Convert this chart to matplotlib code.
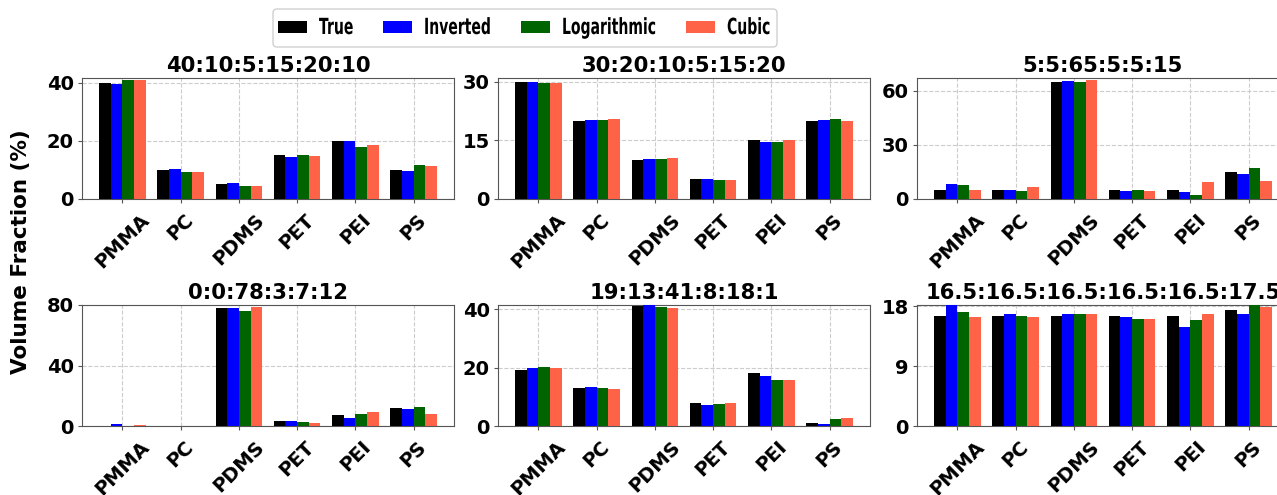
import matplotlib
matplotlib.use("Agg")
import matplotlib.pyplot as plt
from matplotlib.patches import Rectangle, FancyBboxPatch
from matplotlib.patheffects import AbstractPathEffect
from matplotlib.transforms import Affine2D, IdentityTransform
import numpy as np

plastics = ["PMMA", "PC", "PDMS", "PET", "PEI", "PS"]
series_names = ["True", "Inverted", "Logarithmic", "Cubic"]
series_colors = ["#000000", "#0000ff", "#006400", "#ff6347"]

titles = ["40:10:5:15:20:10", "30:20:10:5:15:20", "5:5:65:5:5:15",
          "0:0:78:3:7:12", "19:13:41:8:18:1",
          "16.5:16.5:16.5:16.5:16.5:17.5"]

# volume fractions (%) per mixture: rows = True, Inverted, Logarithmic, Cubic
mix_1 = [[40, 10, 5, 15, 20, 10],
         [39.8, 10.4, 5.5, 14.5, 20.0, 9.8],
         [40.9, 9.4, 4.5, 15.0, 17.9, 11.7],
         [40.9, 9.2, 4.5, 14.8, 18.5, 11.4]]
mix_2 = [[30, 20, 10, 5, 15, 20],
         [29.9, 20.3, 10.3, 5.0, 14.5, 20.3],
         [29.7, 20.3, 10.3, 4.8, 14.5, 20.5],
         [29.7, 20.4, 10.5, 4.8, 15.0, 20.0]]
mix_3 = [[5, 5, 65, 5, 5, 15],
         [8.3, 5.2, 65.1, 4.2, 3.9, 13.8],
         [7.7, 4.6, 64.6, 4.8, 2.2, 17.0],
         [5.2, 6.5, 66.0, 4.2, 9.2, 10.0]]
mix_4 = [[0, 0, 78, 3, 7, 12],
         [1.5, 0.0, 78.0, 3.5, 5.3, 11.5],
         [0.0, 0.0, 76.2, 2.9, 7.7, 12.6],
         [0.9, 0.3, 78.6, 2.2, 9.5, 7.7]]
mix_5 = [[19, 13, 41, 8, 18, 1],
         [19.9, 13.3, 41.3, 7.1, 17.1, 0.8],
         [20.3, 13.0, 40.7, 7.4, 15.9, 2.4],
         [19.9, 12.7, 40.3, 7.8, 15.9, 2.7]]
mix_6 = [[16.5, 16.5, 16.5, 16.5, 16.5, 17.5],
         [18.2, 16.8, 16.9, 16.4, 14.9, 16.8],
         [17.2, 16.6, 16.9, 16.1, 15.9, 18.2],
         [16.4, 16.4, 16.9, 16.1, 16.8, 17.9]]
mixtures = [mix_1, mix_2, mix_3, mix_4, mix_5, mix_6]

y_ticks = [[0, 20, 40], [0, 15, 30], [0, 30, 60],
           [0, 40, 80], [0, 20, 40], [0, 9, 18]]
y_tops = [41.7, 31.0, 67.0, 80.0, 41.4, 18.2]

W, H = 1277, 495
fig = plt.figure(figsize=(W / 100, H / 100), dpi=100)

lefts = [82, 498, 917]
tops = [78, 305]
ax_w, ax_h = 372, 121

x = np.arange(len(plastics))
bw = 0.2
for i, (vals, title) in enumerate(zip(mixtures, titles)):
    r, c = divmod(i, 3)
    ax = fig.add_axes([lefts[c] / W, 1 - (tops[r] + ax_h) / H, ax_w / W, ax_h / H])
    for k in range(4):
        ax.bar(x + (k - 1.5) * bw, vals[k], bw, color=series_colors[k],
               label=series_names[k], zorder=3)
    ax.set_xlim(-0.69, 5.69)
    ax.set_ylim(0, y_tops[i])
    ax.set_yticks(y_ticks[i])
    ax.set_xticks(x)
    ax.set_xticklabels(plastics, rotation=45, fontsize=14, fontweight="bold",
                       ha="center")
    for lbl in ax.get_yticklabels():
        lbl.set_fontsize(14)
        lbl.set_fontweight("bold")
    ax.set_title(title, fontsize=15.2, fontweight="bold", pad=4)
    ax.grid(True, linestyle="--", color="#cccccc", linewidth=0.8, zorder=0)
    for s in ax.spines.values():
        s.set_color("#555555")
    ax.tick_params(length=3, color="#555555")
    ax.tick_params(axis="x", pad=5)
    ax.tick_params(axis="y", pad=3)


class HorizontalSqueeze(AbstractPathEffect):
    """Draw text glyphs narrowed horizontally about a fixed pixel column."""

    def __init__(self, factor, x0):
        super().__init__()
        self.factor = factor
        self.x0 = x0

    def draw_path(self, renderer, gc, tpath, affine, rgbFace=None):
        squeeze = (Affine2D().translate(-self.x0, 0)
                   .scale(self.factor, 1).translate(self.x0, 0))
        renderer.draw_path(gc, tpath, affine + squeeze, rgbFace)


# legend drawn in pixel space: condensed bold labels beside colour swatches
px = IdentityTransform()
frame = FancyBboxPatch((273, H - 47), 504, 38,
                       boxstyle="round,pad=0,rounding_size=4",
                       facecolor="white", edgecolor="#d0d0d0", linewidth=1.0,
                       transform=px)
fig.add_artist(frame)
swatch_x = [278, 383, 521, 686]
label_x = [319, 424, 562, 727]
for name, color, sx, lx in zip(series_names, series_colors, swatch_x, label_x):
    fig.add_artist(Rectangle((sx, H - 33), 29, 12, facecolor=color,
                             edgecolor="none", transform=px))
    fig.text(lx, H - 34, name, transform=px, ha="left", va="baseline",
             fontsize=16, fontweight="bold",
             path_effects=[HorizontalSqueeze(0.63, lx)])

fig.text(21 / W, 1 - 252 / H, "Volume Fraction (%)", rotation=90,
         ha="center", va="center", fontsize=15.5, fontweight="bold")

fig.savefig("out.png", dpi=100)
